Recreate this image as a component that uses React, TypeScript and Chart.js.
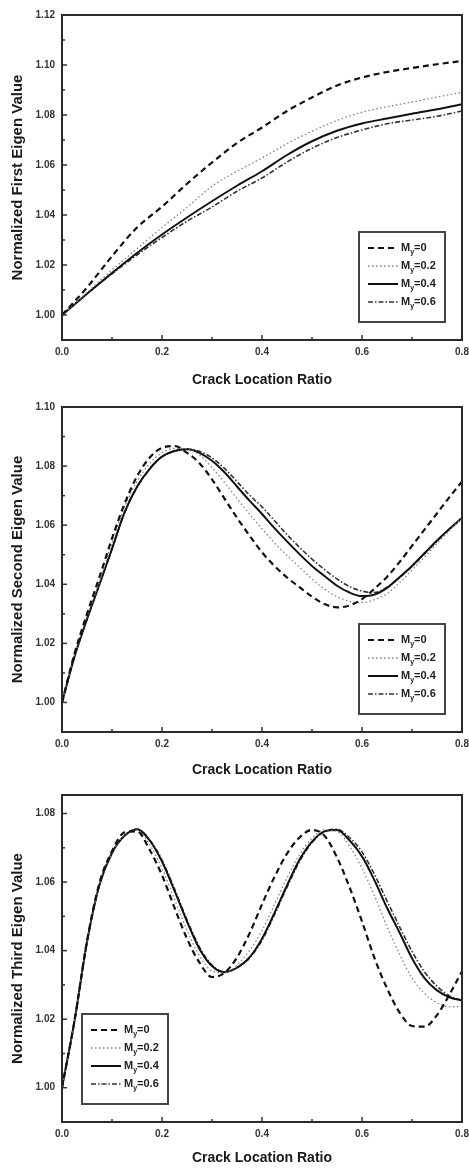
import React, { useEffect, useRef } from 'react';
import { Chart, registerables } from 'chart.js';

Chart.register(...registerables);

// ---------- data ----------
const seriesLabels = ['0', '0.2', '0.4', '0.6'];

const xTicks = [0, 0.2, 0.4, 0.6, 0.8];
const xMinorTicks = [0.1, 0.3, 0.5, 0.7];

const ratioCoarse = [0, 0.05, 0.1, 0.15, 0.2, 0.25, 0.3, 0.35, 0.4, 0.45, 0.5, 0.55, 0.6, 0.65, 0.7, 0.75, 0.8];
const ratioFine = [0, 0.025, 0.05, 0.075, 0.1, 0.125, 0.15, 0.175, 0.2, 0.225, 0.25, 0.275, 0.3, 0.325, 0.35, 0.375, 0.4, 0.425, 0.45, 0.475, 0.5, 0.525, 0.55, 0.575, 0.6, 0.625, 0.65, 0.675, 0.7, 0.725, 0.75, 0.775, 0.8];

// First eigen value
const firstM0 = [1.0, 1.011, 1.0235, 1.035, 1.0433, 1.0525, 1.061, 1.0688, 1.075, 1.0816, 1.087, 1.0918, 1.095, 1.0972, 1.0988, 1.1003, 1.1016];
const firstM02 = [1.0, 1.009, 1.018, 1.0265, 1.035, 1.043, 1.0515, 1.0575, 1.0628, 1.0685, 1.0735, 1.0778, 1.0811, 1.0833, 1.0852, 1.0872, 1.0891];
const firstM04 = [1.0, 1.0085, 1.0168, 1.0248, 1.0322, 1.039, 1.0455, 1.0517, 1.0575, 1.064, 1.0695, 1.0737, 1.0766, 1.0786, 1.0805, 1.0823, 1.0843];
const firstM06 = [1.0, 1.0085, 1.0165, 1.024, 1.031, 1.0375, 1.0432, 1.0495, 1.0548, 1.0612, 1.0667, 1.071, 1.074, 1.0765, 1.078, 1.0795, 1.0816];
const firstYTicks = [1.0, 1.02, 1.04, 1.06, 1.08, 1.1, 1.12];
const firstYMinor = [0.99, 1.01, 1.03, 1.05, 1.07, 1.09, 1.11];

// Second eigen value
const secondM0 = [1.0, 1.0165, 1.03, 1.0425, 1.0555, 1.0672, 1.0765, 1.0828, 1.0862, 1.0868, 1.0845, 1.081, 1.0755, 1.069, 1.0625, 1.0565, 1.0508, 1.0462, 1.0423, 1.039, 1.0358, 1.0333, 1.0322, 1.0328, 1.035, 1.0385, 1.0425, 1.0475, 1.053, 1.0585, 1.064, 1.0695, 1.0748];
const secondM02 = [1.0, 1.016, 1.029, 1.0408, 1.054, 1.066, 1.0748, 1.0808, 1.0845, 1.086, 1.0858, 1.0838, 1.0795, 1.0745, 1.069, 1.0638, 1.0588, 1.054, 1.0498, 1.0458, 1.0418, 1.0384, 1.0358, 1.0342, 1.0338, 1.0348, 1.0368, 1.0405, 1.0448, 1.0492, 1.0538, 1.0582, 1.0625];
const secondM04 = [1.0, 1.0155, 1.0282, 1.04, 1.052, 1.0643, 1.073, 1.079, 1.0832, 1.0851, 1.0857, 1.0845, 1.0818, 1.0779, 1.0731, 1.0683, 1.0638, 1.059, 1.0545, 1.0502, 1.0462, 1.0428, 1.0395, 1.0372, 1.036, 1.0365, 1.0388, 1.0424, 1.0462, 1.0505, 1.0548, 1.0588, 1.0625];
const secondM06 = [1.0, 1.0155, 1.0282, 1.04, 1.052, 1.064, 1.0728, 1.079, 1.0832, 1.0851, 1.0858, 1.085, 1.0828, 1.0792, 1.0748, 1.0702, 1.0662, 1.0615, 1.0568, 1.0525, 1.0485, 1.045, 1.0418, 1.0392, 1.0377, 1.0372, 1.039, 1.0422, 1.046, 1.0503, 1.0546, 1.0586, 1.0622];
const secondYTicks = [1.0, 1.02, 1.04, 1.06, 1.08, 1.1];
const secondYMinor = [0.99, 1.01, 1.03, 1.05, 1.07, 1.09];

// Third eigen value
const thirdM0 = [1.0, 1.0195, 1.0428, 1.0598, 1.069, 1.0745, 1.0748, 1.0695, 1.062, 1.0525, 1.0435, 1.0365, 1.0323, 1.0335, 1.038, 1.045, 1.0535, 1.0615, 1.0683, 1.073, 1.0752, 1.0735, 1.0672, 1.0585, 1.0485, 1.0378, 1.029, 1.022, 1.018, 1.0178, 1.0212, 1.0272, 1.034];
const thirdM02 = [1.0, 1.0195, 1.0425, 1.0592, 1.0685, 1.0738, 1.0752, 1.071, 1.064, 1.055, 1.046, 1.0385, 1.034, 1.0335, 1.0358, 1.04, 1.0458, 1.0535, 1.0612, 1.068, 1.0728, 1.0752, 1.0748, 1.0705, 1.064, 1.056, 1.047, 1.039, 1.032, 1.0275, 1.0248, 1.0236, 1.0238];
const thirdM04 = [1.0, 1.0195, 1.0425, 1.0592, 1.0685, 1.0735, 1.0754, 1.0722, 1.066, 1.0575, 1.0485, 1.0405, 1.0355, 1.0337, 1.035, 1.038, 1.0435, 1.051, 1.059, 1.0665, 1.0718, 1.0748, 1.0752, 1.0722, 1.0675, 1.0605, 1.0525, 1.0453, 1.0378, 1.032, 1.0284, 1.0264, 1.0254];
const thirdM06 = [1.0, 1.0195, 1.0425, 1.0592, 1.0685, 1.0735, 1.0754, 1.0724, 1.0664, 1.058, 1.049, 1.041, 1.0358, 1.0338, 1.035, 1.0378, 1.043, 1.0505, 1.0585, 1.066, 1.0715, 1.0747, 1.0754, 1.073, 1.0688, 1.0622, 1.0545, 1.047, 1.0398, 1.0338, 1.0296, 1.0268, 1.0255];
const thirdYTicks = [1.0, 1.02, 1.04, 1.06, 1.08];
const thirdYMinor = [0.99, 1.01, 1.03, 1.05, 1.07];

// ---------- styles ----------
const FONT = "'Liberation Sans', Arial, sans-serif";
const lineStyles = [
  { color: '#111', width: 2.2, dash: [6, 4] },
  { color: '#808080', width: 1.3, dash: [1.5, 2.5] },
  { color: '#111', width: 2, dash: [] as number[] },
  { color: '#333', width: 1.6, dash: [5, 2, 1.5, 2] },
];

type PanelProps = {
  xs: number[];
  series: number[][];
  yMin: number;
  yMax: number;
  yTicks: number[];
  yMinor: number[];
  yTitle: string;
  legendSide: 'left' | 'right';
  height: number;
  padTop: number;
  axisH: number;
  titlePadBottom: number;
};

function makeDecor(p: PanelProps) {
  return {
    id: 'decor',
    afterDatasetsDraw(chart: any) {
      const { ctx, chartArea: a, scales } = chart;
      const xs = scales.x;
      const ys = scales.y;
      ctx.save();
      ctx.setLineDash([]);
      ctx.strokeStyle = '#333';
      ctx.lineWidth = 1.5;
      const tick = (x1: number, y1: number, x2: number, y2: number) => {
        ctx.beginPath();
        ctx.moveTo(x1, y1);
        ctx.lineTo(x2, y2);
        ctx.stroke();
      };
      p.yTicks.forEach((v) => {
        const py = ys.getPixelForValue(v);
        tick(a.left, py, a.left + 5, py);
      });
      p.yMinor.forEach((v) => {
        const py = ys.getPixelForValue(v);
        tick(a.left, py, a.left + 3, py);
      });
      xTicks.forEach((v) => {
        const px = xs.getPixelForValue(v);
        tick(px, a.bottom, px, a.bottom - 5);
      });
      xMinorTicks.forEach((v) => {
        const px = xs.getPixelForValue(v);
        tick(px, a.bottom, px, a.bottom - 3);
      });
      // frame
      ctx.lineWidth = 2;
      ctx.strokeStyle = '#2a2a2a';
      ctx.strokeRect(a.left, a.top, a.right - a.left, a.bottom - a.top);

      // legend
      const bw = 86;
      const bh = 90;
      const bx = p.legendSide === 'right' ? a.right - 17 - bw : a.left + 20;
      const by = a.bottom - 18 - bh;
      ctx.fillStyle = '#fff';
      ctx.fillRect(bx, by, bw, bh);
      ctx.lineWidth = 2;
      ctx.strokeStyle = '#444';
      ctx.strokeRect(bx, by, bw, bh);
      chart.data.datasets.forEach((ds: any, i: number) => {
        const ry = by + 16 + i * 18;
        ctx.setLineDash(ds.borderDash || []);
        ctx.strokeStyle = ds.borderColor;
        ctx.lineWidth = ds.borderWidth;
        ctx.beginPath();
        ctx.moveTo(bx + 9, ry);
        ctx.lineTo(bx + 39, ry);
        ctx.stroke();
        ctx.setLineDash([]);
        ctx.fillStyle = '#222';
        ctx.textBaseline = 'middle';
        ctx.textAlign = 'left';
        let tx = bx + 42;
        ctx.font = `bold 11px ${FONT}`;
        ctx.fillText('M', tx, ry);
        tx += ctx.measureText('M').width;
        ctx.font = `bold 7px ${FONT}`;
        ctx.fillText('y', tx, ry + 4);
        tx += ctx.measureText('y').width;
        ctx.font = `bold 11px ${FONT}`;
        ctx.fillText('=' + seriesLabels[i], tx, ry);
      });
      ctx.restore();
    },
  };
}

function Panel(p: PanelProps) {
  const ref = useRef<HTMLCanvasElement | null>(null);
  useEffect(() => {
    if (!ref.current) return;
    const datasets = p.series.map((vals, i) => ({
      label: 'My=' + seriesLabels[i],
      data: p.xs.map((x, j) => ({ x, y: vals[j] })),
      borderColor: lineStyles[i].color,
      borderWidth: lineStyles[i].width,
      borderDash: lineStyles[i].dash,
      pointRadius: 0,
      fill: false,
      cubicInterpolationMode: 'monotone' as const,
    }));
    const tickFont = { family: FONT, size: 10, weight: 'bold' as const };
    const chart = new Chart(ref.current, {
      type: 'line',
      data: { datasets: datasets.slice().reverse().reverse() },
      options: {
        animation: false,
        responsive: false,
        events: [],
        layout: { padding: { top: p.padTop, right: 7, left: 0, bottom: 0 } },
        plugins: { legend: { display: false }, tooltip: { enabled: false } },
        scales: {
          x: {
            type: 'linear',
            min: 0,
            max: 0.8,
            grid: { display: false, drawTicks: false },
            border: { display: false },
            afterBuildTicks: (s: any) => {
              s.ticks = xTicks.map((v) => ({ value: v }));
            },
            afterFit: (s: any) => {
              s.height = p.axisH;
              s.paddingLeft = 0;
              s.paddingRight = 0;
            },
            ticks: {
              autoSkip: false,
              maxRotation: 0,
              padding: 6,
              color: '#333',
              font: tickFont,
              callback: (v: any) => Number(v).toFixed(1),
            },
            title: {
              display: true,
              text: 'Crack Location Ratio',
              color: '#1a1a1a',
              font: { family: FONT, size: 14, weight: 'bold' },
              padding: { top: 0, bottom: p.titlePadBottom },
            },
          },
          y: {
            type: 'linear',
            min: p.yMin,
            max: p.yMax,
            grid: { display: false, drawTicks: false },
            border: { display: false },
            afterBuildTicks: (s: any) => {
              s.ticks = p.yTicks.map((v) => ({ value: v }));
            },
            afterFit: (s: any) => {
              s.width = 62;
              s.paddingTop = 0;
              s.paddingBottom = 0;
            },
            ticks: {
              autoSkip: false,
              padding: 7,
              color: '#333',
              font: tickFont,
              callback: (v: any) => Number(v).toFixed(2),
            },
            title: {
              display: true,
              text: p.yTitle,
              color: '#1a1a1a',
              font: { family: FONT, size: 15, weight: 'bold' },
              padding: { top: 9, bottom: 0 },
            },
          },
        },
      },
      plugins: [makeDecor(p)],
    } as any);
    return () => chart.destroy();
  }, []);
  return <canvas ref={ref} width={469} height={p.height} style={{ display: 'block', width: 469, height: p.height }} />;
}

export default function App() {
  return (
    <div style={{ position: 'absolute', left: 0, top: 0, width: 469, height: 1169, background: '#fff' }}>
      <Panel
        xs={ratioCoarse}
        series={[firstM0, firstM02, firstM04, firstM06]}
        yMin={0.99}
        yMax={1.12}
        yTicks={firstYTicks}
        yMinor={firstYMinor}
        yTitle="Normalized First Eigen Value"
        legendSide="right"
        height={390}
        padTop={15}
        axisH={50}
        titlePadBottom={1.6}
      />
      <Panel
        xs={ratioFine}
        series={[secondM0, secondM02, secondM04, secondM06]}
        yMin={0.99}
        yMax={1.1}
        yTicks={secondYTicks}
        yMinor={secondYMinor}
        yTitle="Normalized Second Eigen Value"
        legendSide="right"
        height={390}
        padTop={17}
        axisH={48}
        titlePadBottom={1.6}
      />
      <Panel
        xs={ratioFine}
        series={[thirdM0, thirdM02, thirdM04, thirdM06]}
        yMin={0.99}
        yMax={1.0854}
        yTicks={thirdYTicks}
        yMinor={thirdYMinor}
        yTitle="Normalized Third Eigen Value"
        legendSide="left"
        height={389}
        padTop={15}
        axisH={47}
        titlePadBottom={2.6}
      />
    </div>
  );
}
